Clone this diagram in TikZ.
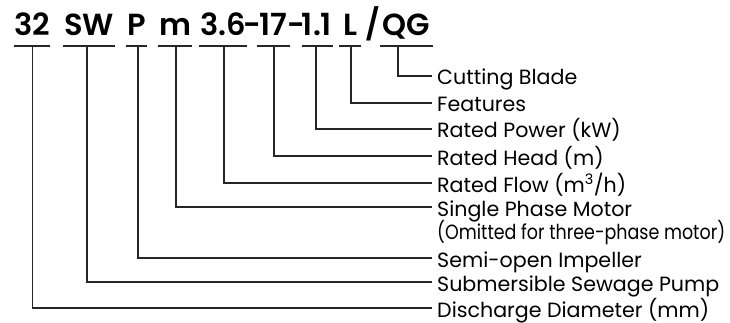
\documentclass[tikz,border=0pt]{standalone}
\usepackage{fontspec}
\usepackage{graphicx}
\setmainfont{Poppins}
\newfontfamily\semibfont{Poppins SemiBold}
\usetikzlibrary{calc}
\tikzset{
  tok/.style={anchor=base, inner sep=0pt, font=\fontsize{30.5}{30}\semibfont},
  lbl/.style={anchor=base west, inner sep=0pt, font=\fontsize{20.6}{20}\selectfont},
  lead/.style={line width=1.3pt, draw=black!85},
}
\begin{document}
\begin{tikzpicture}[x=1pt,y=-1pt]
\useasboundingbox[fill=white] (0,0) rectangle (730,323);
% top code tokens
\node[tok] (t1) at (32,36) {32};
\node[tok] (t2) at (89,36) {SW};
\node[tok] (t3) at (137,36) {P};
\node[tok] (t4) at (175,36) {m};
\node[tok] (t5) at (223,36) {3.6};
\node[tok] (d1) at (252,36) {-};
\node[tok] (t6) at (273,36) {17};
\node[tok] (d2) at (296,36) {-};
\node[tok] (t7) at (317,36) {1.1};
\node[tok] (t8) at (350,36) {L};
\node[tok] (sl) at (373,36) {/};
\node[tok] (t9) at (406,36) {QG};
% underlines
\draw[lead] (14,46) -- (50,46);
\draw[lead] (63,46) -- (115,46);
\draw[lead] (126,46) -- (147,46);
\draw[lead] (158,46) -- (192,46);
\draw[lead] (199,46) -- (247,46);
\draw[lead] (257,46) -- (290,46);
\draw[lead] (302,46) -- (333,46);
\draw[lead] (339,46) -- (361,46);
\draw[lead] (380,46) -- (433,46);
% tick points
\coordinate (u1) at (32.7,46);
\coordinate (u2) at (87,46);
\coordinate (u3) at (138,46);
\coordinate (u4) at (176,46);
\coordinate (u5) at (224,46);
\coordinate (u6) at (274,46);
\coordinate (u7) at (316,46);
\coordinate (u8) at (351,46);
\coordinate (u9) at (398,46);
% labels
\node[lbl] (l9) at (437,85) {Cutting Blade};
\node[lbl] (l8) at (437,112) {Features};
\node[lbl] (l7) at (437,138) {Rated Power (kW)};
\node[lbl] (l6) at (437,165) {Rated Head (m)};
\node[lbl] (l5) at (437,192) {Rated Flow (m\textsuperscript{3}/h)};
\node[lbl] (l4) at (437,216) {Single Phase Motor};
\node[lbl] (l4b) at (437,239) {\resizebox{288pt}{\height}{(Omitted for three-phase motor)}};
\node[lbl] (l3) at (437,267) {Semi-open Impeller};
\node[lbl] (l2) at (437,291) {Submersible Sewage Pump};
\node[lbl] (l1) at (437,317) {Discharge Diameter (mm)};
% connectors
\foreach \i in {1,...,9}{
  \draw[lead] (u\i) |- ($(l\i.base west)+(-5,-9)$);
}
\end{tikzpicture}
\end{document}
